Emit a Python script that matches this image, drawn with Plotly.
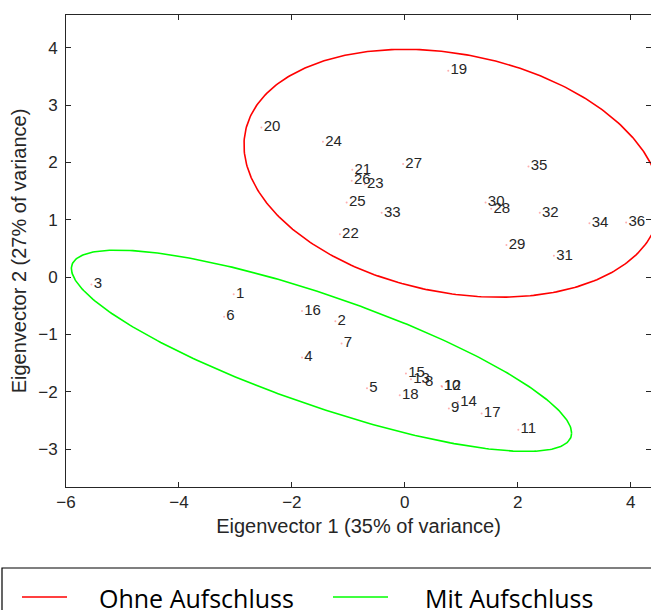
import numpy as np
import plotly.graph_objects as go

# ---- data ----
sample_ids = [str(i) for i in range(1, 37)]
ev1 = [-3.03, -1.23, -5.55, -1.82, -0.67, -3.20, -1.12, 0.32, 0.78, 0.65,
       2.01, 0.66, 0.11, 0.94, 0.02, -1.82, 1.36, -0.09,
       0.77, -2.54, -0.93, -1.15, -0.71, -1.45, -1.03, -0.94, -0.03, 1.53,
       1.80, 1.43, 2.64, 2.39, -0.41, 3.27, 2.19, 3.92]
ev2 = [-0.30, -0.77, -0.13, -1.40, -1.94, -0.69, -1.16, -1.83, -2.29, -1.90,
       -2.66, -1.91, -1.78, -2.18, -1.68, -0.59, -2.38, -2.06,
       3.60, 2.61, 1.87, 0.745, 1.62, 2.36, 1.30, 1.68, 1.97, 1.19,
       0.56, 1.30, 0.37, 1.12, 1.12, 0.94, 1.93, 0.95]

group_names = ["Ohne Aufschluss", "Mit Aufschluss"]
group_colors = ["#ff0000", "#00ff00"]
ellipse_center_x = [0.84, -1.475]
ellipse_center_y = [1.81, -1.285]
ellipse_sxx = [13.6, 19.62]
ellipse_syy = [4.67, 3.08]
ellipse_sxy = [-1.81, -6.35]

xticks = [-6, -4, -2, 0, 2, 4]
yticks = [-3, -2, -1, 0, 1, 2, 3, 4]

fig = go.Figure()

t = np.linspace(0, 2 * np.pi, 361)
for name, col, cx, cy, sxx, syy, sxy in zip(group_names, group_colors, ellipse_center_x,
                                             ellipse_center_y, ellipse_sxx, ellipse_syy, ellipse_sxy):
    L = np.linalg.cholesky(np.array([[sxx, sxy], [sxy, syy]]))
    pts = L @ np.vstack([np.cos(t), np.sin(t)])
    fig.add_trace(go.Scatter(x=cx + pts[0], y=cy + pts[1], mode="lines", name=name,
                             showlegend=False,
                             line=dict(color=col, width=1.6), hoverinfo="skip"))

fig.add_trace(go.Scatter(x=ev1, y=ev2, mode="markers+text", text=sample_ids,
                         textposition="middle right", showlegend=False,
                         marker=dict(size=2, color="rgba(255,120,120,0.6)"),
                         textfont=dict(family="Liberation Sans, Arial", size=15, color="#262626")))

axis_common = dict(showline=True, linecolor="#262626", linewidth=1, mirror="ticks",
                   ticks="inside", ticklen=5, tickcolor="#262626", showgrid=False, zeroline=False,
                   automargin=False,
                   tickfont=dict(family="Liberation Sans, Arial", size=17, color="#262626"),
                   title_font=dict(family="Liberation Sans, Arial", size=20, color="#262626"))

fig.update_xaxes(range=[-6, 4.36], tickvals=xticks,
                 title_text="Eigenvector 1 (35% of variance)", title_standoff=7, **axis_common)
fig.update_yaxes(range=[-3.66, 4.57], tickvals=yticks, ticklabelstandoff=4,
                 title_text="Eigenvector 2 (27% of variance)", title_standoff=6, **axis_common)

# legend box and entries (paper coordinates relative to the plot area)
PL, PW, PB, PH = 66, 585, 487, 472
def px(xp):
    return (xp - PL) / PW
def py(yp):
    return (PB - yp) / PH

fig.add_shape(type="rect", xref="paper", yref="paper", x0=px(2), x1=1.05, y0=-0.4, y1=py(568),
              line=dict(color="#000000", width=1.2), fillcolor="rgba(0,0,0,0)")
legend_line_x = [(22, 67), (333, 388)]
legend_text_x = [97, 423]
for name, col, (a, b), tx in zip(group_names, group_colors, legend_line_x, legend_text_x):
    fig.add_shape(type="line", xref="paper", yref="paper", x0=px(a), x1=px(b), y0=py(597), y1=py(597),
                  line=dict(color=col, width=1.6))
    fig.add_annotation(xref="paper", yref="paper", x=px(tx), y=py(598), text=name, showarrow=False,
                       xanchor="left", yanchor="middle",
                       font=dict(family="Open Sans, Noto Sans", size=25, color="#000000"))

fig.update_layout(
    width=651, height=610,
    margin=dict(l=66, r=0, t=15, b=123),
    paper_bgcolor="white", plot_bgcolor="white",
    showlegend=False,
)

fig.write_html("out.html", config={"displayModeBar": False},
               post_script="document.body.style.margin='0';document.body.style.overflow='hidden';")
